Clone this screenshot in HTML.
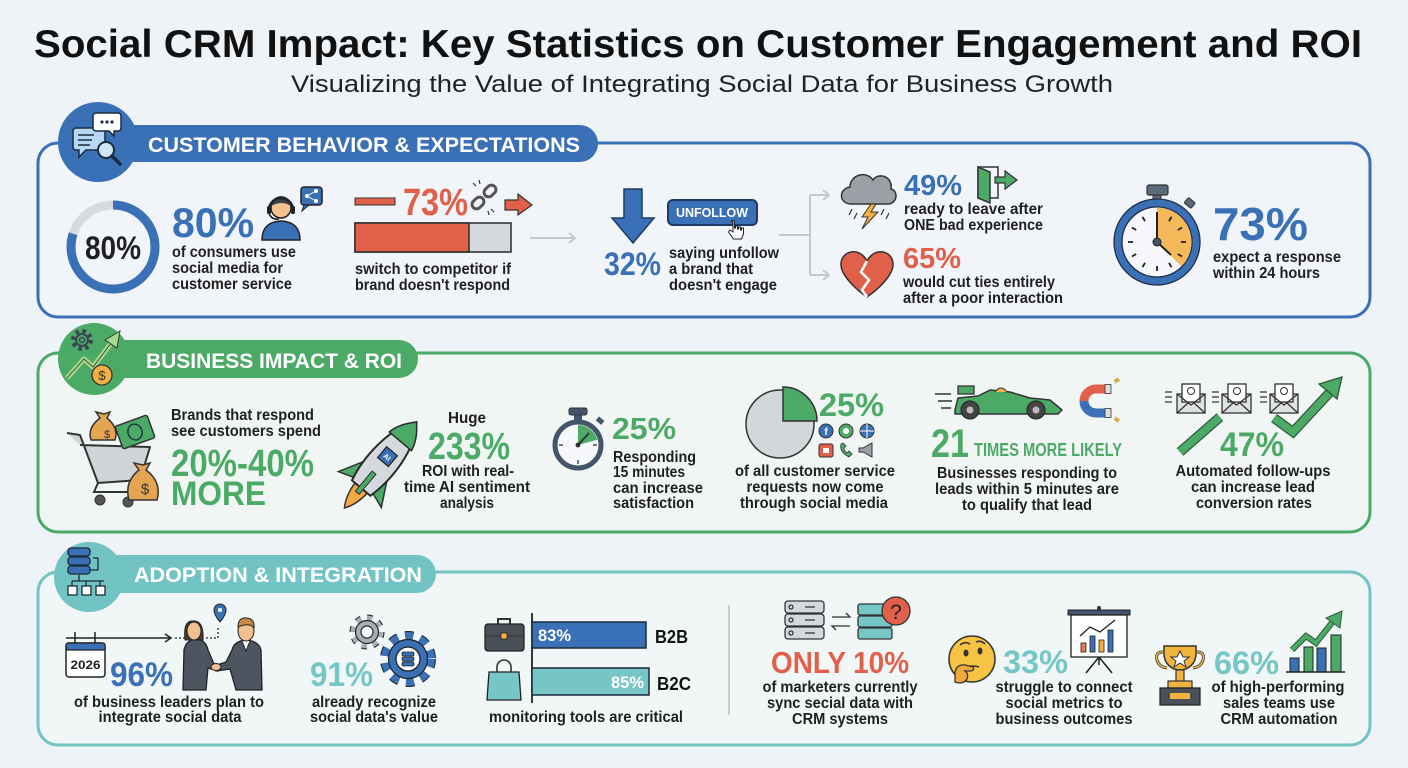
<!DOCTYPE html>
<html><head><meta charset="utf-8"><style>
html,body{margin:0;padding:0;background:#eef3f7}
svg{display:block}
text{font-family:"Liberation Sans",Arial,sans-serif}
.t{font-weight:bold;font-size:16px;fill:#1f1f1f}
.n{font-weight:bold}
.h{font-weight:bold;font-size:21px;fill:#fff}
</style></head><body>
<svg width="1408" height="768" viewBox="0 0 1408 768" xmlns="http://www.w3.org/2000/svg">
<rect width="1408" height="768" fill="#eef3f7"/>

<!-- Title -->
<text x="34" y="57" font-size="39" font-weight="bold" fill="#111" textLength="1328" lengthAdjust="spacingAndGlyphs">Social CRM Impact: Key Statistics on Customer Engagement and ROI</text>
<text x="291" y="92" font-size="24" fill="#222" textLength="822" lengthAdjust="spacingAndGlyphs">Visualizing the Value of Integrating Social Data for Business Growth</text>

<!-- ============ SECTION 1 ============ -->
<rect x="38" y="143" width="1332" height="174" rx="20" fill="#f1f5f9" stroke="#3a70b6" stroke-width="3"/>
<rect x="90" y="125" width="508" height="37" rx="18.5" fill="#3a70b6"/>
<circle cx="98" cy="142" r="40" fill="#3a70b6"/>
<text class="h" x="148" y="152" textLength="432" lengthAdjust="spacingAndGlyphs">CUSTOMER BEHAVIOR &amp; EXPECTATIONS</text>
<!-- header icon -->
<path d="M76 128 h26 a3 3 0 0 1 3 3 v16 a3 3 0 0 1 -3 3 h-16 l-7 7 v-7 h-3 a3 3 0 0 1 -3 -3 v-16 a3 3 0 0 1 3 -3z" fill="#b6d8f2" stroke="#1b2a40" stroke-width="1.5"/>
<line x1="78" y1="135" x2="94" y2="135" stroke="#1b2a40" stroke-width="1.5"/>
<line x1="78" y1="140" x2="92" y2="140" stroke="#1b2a40" stroke-width="1.5"/>
<line x1="78" y1="145" x2="90" y2="145" stroke="#1b2a40" stroke-width="1.5"/>
<path d="M96 113 h22 a3 3 0 0 1 3 3 v12 a3 3 0 0 1 -3 3 h-4 v5 l-5 -5 h-13 a3 3 0 0 1 -3 -3 v-12 a3 3 0 0 1 3 -3z" fill="#fff" stroke="#1b2a40" stroke-width="1.5"/>
<circle cx="102" cy="122" r="1.6" fill="#1b2a40"/><circle cx="107" cy="122" r="1.6" fill="#1b2a40"/><circle cx="112" cy="122" r="1.6" fill="#1b2a40"/>
<circle cx="106" cy="150" r="8" fill="#cfe6f7" stroke="#1b2a40" stroke-width="2"/>
<line x1="112" y1="156" x2="120" y2="164" stroke="#1b2a40" stroke-width="3.5" stroke-linecap="round"/>

<!-- donut 80% -->
<circle cx="113" cy="247" r="42" fill="none" stroke="#d7dade" stroke-width="9"/>
<circle cx="113" cy="247" r="42" fill="none" stroke="#3a70b6" stroke-width="9" stroke-dasharray="211.1 300" transform="rotate(-90 113 247)"/>
<text x="113" y="259" text-anchor="middle" font-size="32" class="n" fill="#1f1f1f" textLength="56" lengthAdjust="spacingAndGlyphs">80%</text>
<text x="172" y="237" font-size="42" class="n" fill="#3a70b6" textLength="82" lengthAdjust="spacingAndGlyphs">80%</text>
<!-- agent icon -->
<path d="M262 240 Q262 222 281 221 Q300 222 300 240 Z" fill="#3a70b6" stroke="#222" stroke-width="1.5"/>
<circle cx="281" cy="208" r="10" fill="#f2c28f" stroke="#222" stroke-width="1.5"/>
<path d="M271 206 A10 10 0 0 1 291 206 Q282 200 271 206Z" fill="#3b3f46"/>
<path d="M269 210 A12 12 0 0 1 293 210" fill="none" stroke="#222" stroke-width="2.5"/>
<rect x="267" y="206" width="4" height="8" rx="1.5" fill="#222"/><rect x="291" y="206" width="4" height="8" rx="1.5" fill="#222"/>
<path d="M269 213 Q271 220 279 219" fill="none" stroke="#222" stroke-width="1.5"/>
<rect x="301" y="187" width="21" height="18" rx="3" fill="#3a70b6" stroke="#222" stroke-width="1.5"/>
<path d="M304 205 l-2 6 l7 -6z" fill="#3a70b6" stroke="#222" stroke-width="1"/>
<circle cx="307" cy="196" r="2" fill="#fff"/><circle cx="316" cy="191" r="2" fill="#fff"/><circle cx="316" cy="201" r="2" fill="#fff"/>
<path d="M307 196 L316 191 M307 196 L316 201" stroke="#fff" stroke-width="1"/>
<text class="t" x="172" y="257" textLength="124" lengthAdjust="spacingAndGlyphs">of consumers use</text>
<text class="t" x="172" y="273" textLength="111" lengthAdjust="spacingAndGlyphs">social media for</text>
<text class="t" x="172" y="289" textLength="120" lengthAdjust="spacingAndGlyphs">customer service</text>

<!-- 73% switch -->
<rect x="355" y="198" width="40" height="7" fill="#e0604a" stroke="#333" stroke-width="1"/>
<text x="403" y="215" font-size="38" class="n" fill="#e0604a" textLength="65" lengthAdjust="spacingAndGlyphs">73%</text>
<g transform="translate(484,197) rotate(-45)">
<rect x="-15" y="-4.5" width="13" height="9" rx="4.5" fill="none" stroke="#555" stroke-width="3"/>
<rect x="2" y="-4.5" width="13" height="9" rx="4.5" fill="none" stroke="#555" stroke-width="3"/>
</g>
<path d="M476 186 l-3 -3 M480 184 l-1 -4 M491 209 l3 3 M488 211 l1 4" stroke="#333" stroke-width="1.2"/>
<polygon points="505,200 518,200 518,194 532,205 518,215 518,210 505,210" fill="#e0604a" stroke="#333" stroke-width="1.2"/>
<rect x="355" y="223" width="156" height="29" fill="#d5d8dc" stroke="#2a2a2a" stroke-width="1.5"/>
<rect x="355" y="223" width="114" height="29" fill="#e0604a" stroke="#2a2a2a" stroke-width="1.5"/>
<text class="t" x="355" y="274" textLength="156" lengthAdjust="spacingAndGlyphs">switch to competitor if</text>
<text class="t" x="355" y="290" textLength="155" lengthAdjust="spacingAndGlyphs">brand doesn't respond</text>
<line x1="530" y1="238" x2="574" y2="238" stroke="#c3c8cd" stroke-width="2"/>
<polyline points="569,233 575,238 569,243" fill="none" stroke="#c3c8cd" stroke-width="2"/>

<!-- 32% unfollow -->
<polygon points="624,189 642,189 642,218 654,218 633,243 612,218 624,218" fill="#3a70b6" stroke="#1d3a66" stroke-width="1.5"/>
<rect x="668" y="200" width="89" height="25" rx="5" fill="#3a70b6" stroke="#1d3a66" stroke-width="2"/>
<text x="712" y="217" text-anchor="middle" font-size="13" class="n" fill="#fff" textLength="72" lengthAdjust="spacingAndGlyphs">UNFOLLOW</text>
<path d="M733 222 v10 l-3 -2 l-1.5 2 l5 7 h8 l2 -5 v-6 h-2 v2 h-1 v-3 h-2 v2 h-1 v-3 h-2 v2 h-1 v-6 a1.5 1.5 0 0 0 -3 0z" fill="#fff" stroke="#222" stroke-width="1"/>
<text x="604" y="275" font-size="32" class="n" fill="#3a70b6" textLength="57" lengthAdjust="spacingAndGlyphs">32%</text>
<text class="t" x="669" y="258" textLength="110" lengthAdjust="spacingAndGlyphs">saying unfollow</text>
<text class="t" x="669" y="274" textLength="84" lengthAdjust="spacingAndGlyphs">a brand that</text>
<text class="t" x="669" y="290" textLength="108" lengthAdjust="spacingAndGlyphs">doesn't engage</text>

<!-- connector -->
<path d="M779 235 H810 M810 195 V275 M810 195 H828 M810 275 H828" fill="none" stroke="#c3c8cd" stroke-width="2"/>
<polyline points="823,190 829,195 823,200" fill="none" stroke="#c3c8cd" stroke-width="2"/>
<polyline points="823,270 829,275 823,280" fill="none" stroke="#c3c8cd" stroke-width="2"/>

<!-- cloud 49% -->
<path d="M851 204 C839 204 838 189 850 187 C850 175 866 170 873 180 C878 172 893 176 891 189 C899 191 897 204 888 204 Z" fill="#9aa0a6" stroke="#333" stroke-width="1.5"/>
<polygon points="871,204 862,217 868,217 862,229 878,212 871,212 876,204" fill="#f5b041" stroke="#333" stroke-width="1"/>
<path d="M852 209 l-3 6 M857 213 l-3 6 M884 209 l-3 6 M889 213 l-3 6" stroke="#333" stroke-width="1.2"/>
<text x="904" y="195" font-size="29" class="n" fill="#3a70b6" textLength="58" lengthAdjust="spacingAndGlyphs">49%</text>
<rect x="978" y="167" width="20" height="31" fill="none" stroke="#333" stroke-width="1.5"/>
<polygon points="978,167 990,172 990,203 978,198" fill="#4caa67" stroke="#333" stroke-width="1.5"/>
<polygon points="995,177 1005,177 1005,171 1017,180 1005,189 1005,183 995,183" fill="#4caa67" stroke="#333" stroke-width="1.2"/>
<text class="t" x="904" y="214" textLength="139" lengthAdjust="spacingAndGlyphs">ready to leave after</text>
<text class="t" x="904" y="230" textLength="139" lengthAdjust="spacingAndGlyphs">ONE bad experience</text>

<!-- heart 65% -->
<path d="M867 297 C850 285 840 272 841 263 C842 254 850 251 856 252 C861 253 865 257 867 261 C869 257 873 253 878 252 C884 251 892 254 893 263 C894 272 884 285 867 297 Z" fill="#e0604a" stroke="#333" stroke-width="1.5"/>
<polyline points="867,261 861,272 869,280 862,290 867,297" fill="none" stroke="#fff" stroke-width="2.5"/>
<text x="903" y="268" font-size="29" class="n" fill="#e0604a" textLength="58" lengthAdjust="spacingAndGlyphs">65%</text>
<text class="t" x="903" y="287" textLength="152" lengthAdjust="spacingAndGlyphs">would cut ties entirely</text>
<text class="t" x="903" y="303" textLength="160" lengthAdjust="spacingAndGlyphs">after a poor interaction</text>

<!-- stopwatch 73% -->
<rect x="1153" y="193" width="8" height="10" fill="#5a6a7a" stroke="#333" stroke-width="1"/>
<rect x="1147" y="185" width="21" height="10" rx="2" fill="#5a6a7a" stroke="#333" stroke-width="1.2"/>
<rect x="1185" y="199" width="9" height="7" rx="1.5" fill="#5a6a7a" stroke="#333" stroke-width="1" transform="rotate(40 1189 203)"/>
<circle cx="1157" cy="242" r="39" fill="#f5f7fa" stroke="#3a70b6" stroke-width="8"/>
<circle cx="1157" cy="242" r="43" fill="none" stroke="#1f2f48" stroke-width="1.3"/>
<circle cx="1157" cy="242" r="35" fill="none" stroke="#1f2f48" stroke-width="1.3"/>
<g transform="translate(1157,242)">
<path d="M0 0 L0 -34.5 A34.5 34.5 0 0 1 24.4 24.4 Z" fill="#f5b85a"/>
<g stroke="#222" stroke-width="1.8">
<line y1="-29" y2="-24" transform="rotate(30)"/><line y1="-29" y2="-24" transform="rotate(60)"/><line y1="-29" y2="-24" transform="rotate(90)"/><line y1="-29" y2="-24" transform="rotate(120)"/><line y1="-29" y2="-24" transform="rotate(150)"/><line y1="-29" y2="-24" transform="rotate(180)"/><line y1="-29" y2="-24" transform="rotate(210)"/><line y1="-29" y2="-24" transform="rotate(240)"/><line y1="-29" y2="-24" transform="rotate(270)"/><line y1="-29" y2="-24" transform="rotate(300)"/><line y1="-29" y2="-24" transform="rotate(330)"/>
</g>
<line x1="0" y1="0" x2="0" y2="-30" stroke="#222" stroke-width="2"/>
<line x1="0" y1="0" x2="14" y2="13" stroke="#222" stroke-width="2"/>
<circle r="4" fill="#44546a" stroke="#222" stroke-width="1"/>
</g>
<text x="1213" y="240" font-size="46" class="n" fill="#3a70b6" textLength="95" lengthAdjust="spacingAndGlyphs">73%</text>
<text class="t" x="1213" y="262" textLength="128" lengthAdjust="spacingAndGlyphs">expect a response</text>
<text class="t" x="1213" y="278" textLength="107" lengthAdjust="spacingAndGlyphs">within 24 hours</text>

<!-- ============ SECTION 2 ============ -->
<rect x="38" y="353" width="1332" height="179" rx="20" fill="#f1f6f4" stroke="#4caa67" stroke-width="3"/>
<rect x="90" y="340" width="328" height="38" rx="19" fill="#4caa67"/>
<circle cx="94" cy="359" r="36" fill="#4caa67"/>
<text class="h" x="146" y="368" textLength="256" lengthAdjust="spacingAndGlyphs">BUSINESS IMPACT &amp; ROI</text>
<circle cx="82" cy="340" r="9" fill="none" stroke="#3b4552" stroke-width="4" stroke-dasharray="3.5 3.6"/>
<circle cx="82" cy="340" r="6" fill="#4caa67" stroke="#3b4552" stroke-width="2"/>
<circle cx="82" cy="340" r="2.5" fill="none" stroke="#3b4552" stroke-width="1.5"/>
<polyline points="67,378 84,359 93,367 112,342" fill="none" stroke="#a6d98a" stroke-width="5" stroke-linejoin="round"/>
<polyline points="67,378 84,359 93,367 112,342" fill="none" stroke="#2d4030" stroke-width="0.8"/>
<polygon points="105,340 120,331 117,348" fill="#a6d98a" stroke="#2d4030" stroke-width="1"/>
<circle cx="102" cy="375" r="10" fill="#f5b041" stroke="#333" stroke-width="1.3"/>
<text x="102" y="380" text-anchor="middle" font-size="13" fill="#333">$</text>

<!-- cart -->
<path d="M67 433 L80 435 L98 483 L140 480 L150 447 L80 445" fill="#d0d4d8" stroke="#333" stroke-width="2" stroke-linejoin="round"/>
<path d="M98 483 L94 492 L140 492" fill="none" stroke="#333" stroke-width="2"/>
<circle cx="100" cy="500" r="5" fill="#555" stroke="#333"/><circle cx="128" cy="502" r="5" fill="#555" stroke="#333"/>
<g transform="rotate(-20 135 432)"><rect x="118" y="420" width="34" height="24" rx="2" fill="#4caa67" stroke="#333" stroke-width="1.5"/><ellipse cx="135" cy="432" rx="7" ry="8" fill="none" stroke="#234" stroke-width="1.5"/></g>
<path d="M100 418 l-4 -6 l8 2 l6 -2 l-3 6 q12 10 8 22 h-24 q-4 -12 9 -22z" fill="#e3a552" stroke="#333" stroke-width="1.5"/>
<text x="107" y="438" text-anchor="middle" font-size="11" fill="#333">$</text>
<path d="M139 470 l-5 -7 l9 2 l7 -2 l-4 7 q16 12 11 30 h-28 q-5 -18 10 -30z" fill="#e3a552" stroke="#333" stroke-width="1.5"/>
<text x="145" y="494" text-anchor="middle" font-size="15" fill="#333">$</text>
<text class="t" x="171" y="420" textLength="143" lengthAdjust="spacingAndGlyphs">Brands that respond</text>
<text class="t" x="171" y="436" textLength="150" lengthAdjust="spacingAndGlyphs">see customers spend</text>
<text x="171" y="476" font-size="38" class="n" fill="#4caa67" textLength="143" lengthAdjust="spacingAndGlyphs">20%-40%</text>
<text x="171" y="505" font-size="34" class="n" fill="#4caa67" textLength="95" lengthAdjust="spacingAndGlyphs">MORE</text>

<!-- rocket -->
<g transform="translate(383,462) rotate(40)">
<path d="M-8 34 Q-7 50 0 60 Q7 50 8 34 Z" fill="#f5a742" stroke="#333" stroke-width="1.5"/>
<path d="M-13 8 L-28 36 L-11 30 Z" fill="#4caa67" stroke="#333" stroke-width="1.5"/>
<path d="M13 8 L28 36 L11 30 Z" fill="#4caa67" stroke="#333" stroke-width="1.5"/>
<path d="M0 -52 C18 -30 18 10 12 34 L-12 34 C-18 10 -18 -30 0 -52 Z" fill="#d5d8dc" stroke="#2a2a2a" stroke-width="2"/>
<path d="M0 -52 C9 -43 13 -35 14.5 -27 L-14.5 -27 C-13 -35 -9 -43 0 -52 Z" fill="#4caa67" stroke="#2a2a2a" stroke-width="1.5"/>
<rect x="-2.5" y="14" width="5" height="26" fill="#4caa67" stroke="#333" stroke-width="1"/>
<rect x="-7" y="-14" width="14" height="14" fill="#3a70b6" stroke="#222" stroke-width="1.2"/>
<text x="0" y="-4" text-anchor="middle" font-size="7" class="n" fill="#fff">AI</text>
</g>
<text class="t" x="467" y="423" text-anchor="middle" textLength="38" lengthAdjust="spacingAndGlyphs">Huge</text>
<text x="469" y="459" text-anchor="middle" font-size="38" class="n" fill="#4caa67" textLength="82" lengthAdjust="spacingAndGlyphs">233%</text>
<text class="t" x="468" y="476" text-anchor="middle" textLength="92" lengthAdjust="spacingAndGlyphs">ROI with real-</text>
<text class="t" x="467" y="492" text-anchor="middle" textLength="126" lengthAdjust="spacingAndGlyphs">time AI sentiment</text>
<text class="t" x="467" y="508" text-anchor="middle" textLength="54" lengthAdjust="spacingAndGlyphs">analysis</text>

<!-- small stopwatch -->
<rect x="574" y="413" width="8" height="8" fill="#44546a"/>
<rect x="569" y="408" width="18" height="7" rx="2" fill="#44546a" stroke="#333" stroke-width="1"/>
<rect x="597" y="418" width="7" height="5" fill="#44546a" transform="rotate(40 600 420)"/>
<circle cx="578" cy="445" r="23" fill="#f5f7fa" stroke="#44546a" stroke-width="5"/>
<path d="M578 445 L578 425 A20 20 0 0 1 597.3 439.8 Z" fill="#4caa67"/>
<g stroke="#333" stroke-width="1.3"><line x1="578" y1="464" x2="578" y2="460"/><line x1="559" y1="445" x2="563" y2="445"/><line x1="597" y1="445" x2="593" y2="445"/></g>
<line x1="578" y1="445" x2="589" y2="433" stroke="#333" stroke-width="2"/>
<circle cx="578" cy="445" r="2.5" fill="#333"/>
<text x="612" y="439" font-size="31" class="n" fill="#4caa67" textLength="64" lengthAdjust="spacingAndGlyphs">25%</text>
<text class="t" x="613" y="462" textLength="83" lengthAdjust="spacingAndGlyphs">Responding</text>
<text class="t" x="613" y="477" textLength="72" lengthAdjust="spacingAndGlyphs">15 minutes</text>
<text class="t" x="613" y="493" textLength="90" lengthAdjust="spacingAndGlyphs">can increase</text>
<text class="t" x="613" y="508" textLength="81" lengthAdjust="spacingAndGlyphs">satisfaction</text>

<!-- pie 25% -->
<circle cx="780" cy="424" r="34" fill="#d3d6da" stroke="#333" stroke-width="1.5"/>
<path d="M783 421 L783 387 A34 34 0 0 1 817 421 Z" fill="#4caa67" stroke="#333" stroke-width="1.5"/>
<text x="819" y="416" font-size="32" class="n" fill="#4caa67" textLength="65" lengthAdjust="spacingAndGlyphs">25%</text>
<circle cx="826" cy="431" r="7" fill="#3a70b6" stroke="#333"/><text x="826" y="435" text-anchor="middle" font-size="10" class="n" fill="#fff">f</text>
<circle cx="846" cy="431" r="7" fill="#4caa67" stroke="#333"/><circle cx="846" cy="431" r="3" fill="#fff"/>
<circle cx="867" cy="431" r="7" fill="#3a70b6" stroke="#333"/><path d="M860 431 h14 M867 424 v14" stroke="#fff" stroke-width="1"/>
<rect x="819" y="444" width="14" height="13" rx="2" fill="#e0604a" stroke="#333"/><rect x="823" y="448" width="6" height="5" fill="#fff"/>
<path d="M841 444 q-2 8 8 13 l3 -3 l-3 -3 l-2 2 q-3 -2 -3 -5 l2 -2 l-3 -3z" fill="#4caa67" stroke="#333" stroke-width="0.8"/>
<path d="M859 448 h4 l9 -5 v14 l-9 -5 h-4z" fill="#9aa0a6" stroke="#333"/>
<text class="t" x="815" y="476" text-anchor="middle" textLength="160" lengthAdjust="spacingAndGlyphs">of all customer service</text>
<text class="t" x="815" y="492" text-anchor="middle" textLength="137" lengthAdjust="spacingAndGlyphs">requests now come</text>
<text class="t" x="814" y="508" text-anchor="middle" textLength="148" lengthAdjust="spacingAndGlyphs">through social media</text>

<!-- race car + magnet -->
<path d="M935 394 h16 M938 401 h14 M941 408 h10" stroke="#333" stroke-width="1.5"/>
<path d="M955 410 L958 398 L978 396 L990 390 L1010 392 L1030 398 L1050 400 L1062 410 L1058 414 L955 414 Z" fill="#4caa67" stroke="#333" stroke-width="1.5" stroke-linejoin="round"/>
<rect x="958" y="386" width="16" height="8" fill="#4caa67" stroke="#333" stroke-width="1.3"/>
<path d="M995 392 q6 -8 12 0" fill="#f5b041" stroke="#333" stroke-width="1"/>
<circle cx="970" cy="410" r="9" fill="#444" stroke="#222"/><circle cx="970" cy="410" r="3.5" fill="#bbb"/>
<circle cx="1036" cy="410" r="9" fill="#444" stroke="#222"/><circle cx="1036" cy="410" r="3.5" fill="#bbb"/>
<path d="M1110 389 L1096 389 A12 12 0 0 0 1084 401" fill="none" stroke="#e0604a" stroke-width="9"/>
<path d="M1084 401 A12 12 0 0 0 1096 413 L1110 413" fill="none" stroke="#3a70b6" stroke-width="9"/>
<rect x="1105" y="384.5" width="6" height="9" fill="#ddd" stroke="#333" stroke-width="0.8"/><rect x="1105" y="408.5" width="6" height="9" fill="#ddd" stroke="#333" stroke-width="0.8"/>
<path d="M1114 381 l4 -3 l-2 4 l4 -2 M1114 419 l4 3 l-2 -4 l4 2" fill="none" stroke="#e0a030" stroke-width="1.5"/>
<text x="931" y="457" font-size="40" class="n" fill="#4caa67" textLength="38" lengthAdjust="spacingAndGlyphs">21</text>
<text x="974" y="456" font-size="18" class="n" fill="#4caa67" textLength="148" lengthAdjust="spacingAndGlyphs">TIMES MORE LIKELY</text>
<text class="t" x="1027" y="478" text-anchor="middle" textLength="180" lengthAdjust="spacingAndGlyphs">Businesses responding to</text>
<text class="t" x="1027" y="494" text-anchor="middle" textLength="184" lengthAdjust="spacingAndGlyphs">leads within 5 minutes are</text>
<text class="t" x="1027" y="510" text-anchor="middle" textLength="130" lengthAdjust="spacingAndGlyphs">to qualify that lead</text>

<!-- envelopes -->
<g stroke="#333" stroke-width="1.3">
<path d="M1165 392 h7 M1165 397 h7 M1165 402 h7 M1212 392 h7 M1212 397 h7 M1212 402 h7 M1260 392 h7 M1260 397 h7 M1260 402 h7" fill="none"/>
<g fill="#dfe2e5"><rect x="1177" y="394" width="28" height="19"/><rect x="1222" y="394" width="29" height="19"/><rect x="1270" y="394" width="28" height="19"/></g>
<g fill="#fff"><rect x="1182" y="384" width="18" height="18"/><rect x="1228" y="384" width="18" height="18"/><rect x="1275" y="384" width="18" height="18"/></g>
<path d="M1177 394 L1191 405 L1205 394 M1177 413 L1188 403 M1205 413 L1194 403 M1222 394 L1236.5 405 L1251 394 M1222 413 L1233 403 M1251 413 L1240 403 M1270 394 L1284 405 L1298 394 M1270 413 L1281 403 M1298 413 L1287 403" fill="none"/>
</g>
<g fill="none" stroke="#333" stroke-width="1"><circle cx="1191" cy="391" r="3.5"/><circle cx="1237" cy="391" r="3.5"/><circle cx="1284" cy="391" r="3.5"/></g>
<line x1="1180" y1="452" x2="1220" y2="417" stroke="#2d5a3a" stroke-width="10"/>
<line x1="1180" y1="452" x2="1220" y2="417" stroke="#4caa67" stroke-width="7.5"/>
<polyline points="1274,418 1293,432 1332,390" fill="none" stroke="#2d5a3a" stroke-width="10"/>
<polyline points="1274,418 1293,432 1332,390" fill="none" stroke="#4caa67" stroke-width="7.5"/>
<polygon points="1342,377 1337,399 1319,384" fill="#4caa67" stroke="#2d5a3a" stroke-width="1.3"/>
<text x="1220" y="456" font-size="34" class="n" fill="#4caa67" textLength="64" lengthAdjust="spacingAndGlyphs">47%</text>
<text class="t" x="1253" y="476" text-anchor="middle" textLength="155" lengthAdjust="spacingAndGlyphs">Automated follow-ups</text>
<text class="t" x="1253" y="492" text-anchor="middle" textLength="124" lengthAdjust="spacingAndGlyphs">can increase lead</text>
<text class="t" x="1254" y="508" text-anchor="middle" textLength="116" lengthAdjust="spacingAndGlyphs">conversion rates</text>

<!-- ============ SECTION 3 ============ -->
<rect x="38" y="572" width="1332" height="173" rx="20" fill="#f1f6f7" stroke="#72c3c3" stroke-width="3"/>
<rect x="90" y="555" width="346" height="38" rx="19" fill="#72c3c3"/>
<circle cx="89" cy="577" r="35" fill="#72c3c3"/>
<text class="h" x="134" y="582" textLength="288" lengthAdjust="spacingAndGlyphs">ADOPTION &amp; INTEGRATION</text>
<g stroke="#1d2a3a" stroke-width="1.3" fill="#3a70b6">
<rect x="68" y="548" width="22" height="8" rx="3"/><rect x="68" y="557" width="22" height="8" rx="3"/><rect x="68" y="566" width="22" height="8" rx="3"/>
</g>
<path d="M90 570 h8 v-12 h-5" fill="none" stroke="#1d2a3a" stroke-width="1.3"/>
<path d="M79 575 v6 M72 581 h32 M72 581 v5 M86 581 v5 M100 581 v5" fill="none" stroke="#1d2a3a" stroke-width="1.3"/>
<g fill="#fff" stroke="#1d2a3a" stroke-width="1.3"><rect x="68" y="586" width="9" height="9"/><rect x="82" y="586" width="9" height="9"/><rect x="96" y="586" width="9" height="9"/></g>

<!-- 96% -->
<line x1="66" y1="638" x2="170" y2="638" stroke="#222" stroke-width="1.5"/>
<polyline points="165,634 171,638 165,642" fill="none" stroke="#222" stroke-width="1.5"/>
<path d="M75 632 v12 M95 632 v12" stroke="#222" stroke-width="1.5"/>
<line x1="175" y1="638" x2="185" y2="638" stroke="#222" stroke-width="1.3" stroke-dasharray="2 2"/>
<path d="M206 638 h12 v-10" fill="none" stroke="#222" stroke-width="1.3" stroke-dasharray="2 2"/>
<rect x="66" y="643" width="39" height="34" rx="3" fill="#fff" stroke="#222" stroke-width="1.5"/>
<rect x="66" y="643" width="39" height="7" rx="2" fill="#3a70b6" stroke="#222" stroke-width="1.2"/>
<text x="85.5" y="669" text-anchor="middle" font-size="12" class="n" fill="#222" textLength="30" lengthAdjust="spacingAndGlyphs">2026</text>
<text x="110" y="686" font-size="34" class="n" fill="#3a70b6" textLength="63" lengthAdjust="spacingAndGlyphs">96%</text>
<!-- people -->
<path d="M220 604 a6 6 0 0 1 6 6 q0 5 -6 12 q-6 -7 -6 -12 a6 6 0 0 1 6 -6z" fill="#3a70b6" stroke="#222" stroke-width="1"/>
<circle cx="220" cy="610" r="2" fill="#fff"/>
<path d="M183 690 L184 650 Q186 640 196 639 Q206 640 208 650 L214 664 L220 666 L218 671 L208 668 L206 690 Z" fill="#4d5560" stroke="#222" stroke-width="1.3"/>
<path d="M185 640 Q183 620 193 621 Q204 620 203 640 Z" fill="#4a3a30" stroke="#222" stroke-width="1"/>
<ellipse cx="194" cy="631" rx="7" ry="9" fill="#f0c090" stroke="#222" stroke-width="1"/>
<path d="M262 690 L261 650 Q259 641 246 640 Q234 641 232 650 L226 662 L214 666 L216 671 L230 669 L236 690 Z" fill="#4d5560" stroke="#222" stroke-width="1.3"/>
<path d="M242 641 l4 10 l4 -10" fill="#fff" stroke="#222" stroke-width="1"/>
<ellipse cx="246" cy="631" rx="8" ry="10" fill="#f0c090" stroke="#222" stroke-width="1"/>
<path d="M238 627 Q238 617 247 618 Q255 619 254 628 Q250 622 238 627Z" fill="#c48a4a" stroke="#222" stroke-width="1"/>
<ellipse cx="216" cy="667" rx="5" ry="3.5" fill="#f0c090" stroke="#222" stroke-width="1"/>
<text class="t" x="169" y="707" text-anchor="middle" textLength="190" lengthAdjust="spacingAndGlyphs">of business leaders plan to</text>
<text class="t" x="170" y="722" text-anchor="middle" textLength="143" lengthAdjust="spacingAndGlyphs">integrate social data</text>

<!-- gears 91% -->
<circle cx="367" cy="632" r="14" fill="none" stroke="#222" stroke-width="7" stroke-dasharray="5 6"/>
<circle cx="367" cy="632" r="14" fill="none" stroke="#a8aeb4" stroke-width="5" stroke-dasharray="5 6"/>
<circle cx="367" cy="632" r="11.5" fill="#a8aeb4" stroke="#222" stroke-width="1.2"/>
<circle cx="367" cy="632" r="6" fill="#fff" stroke="#222" stroke-width="1.2"/>
<circle cx="408" cy="659" r="23" fill="none" stroke="#222" stroke-width="10" stroke-dasharray="8 7.05"/>
<circle cx="408" cy="659" r="23" fill="none" stroke="#3a70b6" stroke-width="8" stroke-dasharray="8 7.05"/>
<circle cx="408" cy="659" r="19.5" fill="#3a70b6" stroke="#222" stroke-width="1.2"/>
<circle cx="408" cy="659" r="12" fill="#fff" stroke="#222" stroke-width="1.3"/>
<g fill="#3a70b6" stroke="#222" stroke-width="0.8"><rect x="402" y="652" width="12" height="4" rx="1.5"/><rect x="402" y="657" width="12" height="4" rx="1.5"/><rect x="402" y="662" width="12" height="4" rx="1.5"/></g>
<text x="310" y="686" font-size="34" class="n" fill="#76c6c6" textLength="63" lengthAdjust="spacingAndGlyphs">91%</text>
<text class="t" x="374" y="707" text-anchor="middle" textLength="124" lengthAdjust="spacingAndGlyphs">already recognize</text>
<text class="t" x="374" y="722" text-anchor="middle" textLength="128" lengthAdjust="spacingAndGlyphs">social data's value</text>

<!-- bars B2B/B2C -->
<path d="M498 625 v-6 h12 v6" fill="none" stroke="#333" stroke-width="2"/>
<rect x="485" y="624" width="39" height="27" rx="3" fill="#4a5058" stroke="#222" stroke-width="1.3"/>
<line x1="485" y1="636" x2="524" y2="636" stroke="#333" stroke-width="1"/>
<rect x="501" y="633" width="6" height="6" fill="#f5b041" stroke="#222" stroke-width="0.8"/>
<line x1="532" y1="613" x2="532" y2="703" stroke="#222" stroke-width="1.8"/>
<rect x="532" y="622" width="114" height="26" fill="#3a70b6" stroke="#1d2a3a" stroke-width="1.5"/>
<text x="538" y="641" font-size="17" class="n" fill="#fff" textLength="33" lengthAdjust="spacingAndGlyphs">83%</text>
<rect x="532" y="668" width="117" height="27" fill="#76c6c6" stroke="#1d2a3a" stroke-width="1.5"/>
<text x="644" y="688" text-anchor="end" font-size="17" class="n" fill="#fff" textLength="33" lengthAdjust="spacingAndGlyphs">85%</text>
<text x="655" y="643" font-size="18" class="n" fill="#111" textLength="33" lengthAdjust="spacingAndGlyphs">B2B</text>
<text x="657" y="690" font-size="18" class="n" fill="#111" textLength="34" lengthAdjust="spacingAndGlyphs">B2C</text>
<path d="M497 673 v-6 a7 7 0 0 1 14 0 v6" fill="none" stroke="#333" stroke-width="1.6"/>
<path d="M489 672 h30 l2 28 h-34 z" fill="#76c6c6" stroke="#222" stroke-width="1.3"/>
<text class="t" x="489" y="722" textLength="194" lengthAdjust="spacingAndGlyphs">monitoring tools are critical</text>

<line x1="729" y1="605" x2="729" y2="715" stroke="#c8cdd2" stroke-width="2"/>

<!-- ONLY 10% -->
<g fill="#d5d8dc" stroke="#333" stroke-width="1.3">
<rect x="785" y="601" width="39" height="12" rx="3"/><rect x="785" y="614" width="39" height="12" rx="3"/><rect x="785" y="627" width="39" height="12" rx="3"/>
</g>
<g fill="none" stroke="#333" stroke-width="1.3">
<circle cx="791" cy="607" r="2"/><circle cx="791" cy="620" r="2"/><circle cx="791" cy="633" r="2"/>
<path d="M805 607 h10 M805 620 h10 M805 633 h10"/>
<path d="M832 617 h18 l-4 -4 M850 626 h-18 l4 4"/>
</g>
<g fill="#76c6c6" stroke="#333" stroke-width="1.3">
<rect x="858" y="604" width="34" height="11" rx="2"/><rect x="858" y="616" width="34" height="11" rx="2"/><rect x="858" y="628" width="34" height="11" rx="2"/>
</g>
<circle cx="896" cy="611" r="14" fill="#e0604a" stroke="#333" stroke-width="1.3"/>
<text x="896" y="619" text-anchor="middle" font-size="21" fill="#222">?</text>
<text x="771" y="673" font-size="31" class="n" fill="#e0604a" textLength="138" lengthAdjust="spacingAndGlyphs">ONLY 10%</text>
<text class="t" x="840" y="692" text-anchor="middle" textLength="155" lengthAdjust="spacingAndGlyphs">of marketers currently</text>
<text class="t" x="840" y="708" text-anchor="middle" textLength="146" lengthAdjust="spacingAndGlyphs">sync secial data with</text>
<text class="t" x="840" y="724" text-anchor="middle" textLength="96" lengthAdjust="spacingAndGlyphs">CRM systems</text>

<!-- 33% -->
<circle cx="972" cy="659" r="23" fill="#f6c443" stroke="#333" stroke-width="1.5"/>
<ellipse cx="966" cy="653" rx="2.5" ry="3.5" fill="#333"/><ellipse cx="980" cy="651" rx="2.5" ry="3.5" fill="#333"/>
<path d="M960 645 q5 -4 10 -1 M976 642 q5 -2 9 2" fill="none" stroke="#333" stroke-width="1.6"/>
<path d="M966 667 q7 -2 13 0" fill="none" stroke="#333" stroke-width="1.6"/>
<path d="M955 672 q2 -8 10 -7 l8 2 q2 3 -2 4 l-6 0 q4 3 2 8 q-4 6 -12 3z" fill="#f0a83c" stroke="#333" stroke-width="1.3"/>
<text x="1003" y="673" font-size="32" class="n" fill="#76c6c6" textLength="65" lengthAdjust="spacingAndGlyphs">33%</text>
<circle cx="1099" cy="608" r="2" fill="#333"/>
<rect x="1068" y="610" width="62" height="5" fill="#44546a" stroke="#222"/>
<rect x="1071" y="615" width="56" height="42" fill="#fff" stroke="#222" stroke-width="1.3"/>
<g stroke="#222" stroke-width="0.8"><rect x="1081" y="643" width="5" height="9" fill="#e8794a"/><rect x="1090" y="636" width="5" height="16" fill="#3a70b6"/><rect x="1099" y="640" width="5" height="12" fill="#f5b041"/><rect x="1108" y="630" width="5" height="22" fill="#3a70b6"/></g>
<polyline points="1080,636 1090,627 1100,632 1115,620" fill="none" stroke="#222" stroke-width="1.3"/>
<path d="M1099 657 L1086 673 M1099 657 L1112 673 M1099 657 v8" stroke="#222" stroke-width="1.5"/>
<text class="t" x="1064" y="692" text-anchor="middle" textLength="137" lengthAdjust="spacingAndGlyphs">struggle to connect</text>
<text class="t" x="1064" y="708" text-anchor="middle" textLength="117" lengthAdjust="spacingAndGlyphs">social metrics to</text>
<text class="t" x="1064" y="724" text-anchor="middle" textLength="137" lengthAdjust="spacingAndGlyphs">business outcomes</text>

<!-- 66% -->
<path d="M1163 652 q-8 0 -6 8 q2 7 10 8 M1197 652 q8 0 6 8 q-2 7 -10 8" fill="none" stroke="#333" stroke-width="3"/>
<path d="M1163 652 q-8 0 -6 8 q2 7 10 8 M1197 652 q8 0 6 8 q-2 7 -10 8" fill="none" stroke="#f0b43c" stroke-width="1.5"/>
<path d="M1164 646 h32 v8 a16 16 0 0 1 -32 0 z" fill="#f0b43c" stroke="#333" stroke-width="1.5"/>
<polygon points="1180,651 1183,657 1189,657 1184,661 1186,667 1180,663 1174,667 1176,661 1171,657 1177,657" fill="#fff" stroke="#333" stroke-width="1"/>
<rect x="1176" y="670" width="8" height="12" fill="#f0b43c" stroke="#333" stroke-width="1.2"/>
<rect x="1168" y="681" width="24" height="7" fill="#f0b43c" stroke="#333" stroke-width="1.2"/>
<rect x="1160" y="688" width="40" height="17" fill="#4a5058" stroke="#222" stroke-width="1.2"/>
<rect x="1170" y="693" width="20" height="6" fill="#f0b43c"/>
<text x="1214" y="674" font-size="32" class="n" fill="#76c6c6" textLength="65" lengthAdjust="spacingAndGlyphs">66%</text>
<g stroke="#222" stroke-width="1"><rect x="1290" y="658" width="9" height="14" fill="#3a70b6"/><rect x="1304" y="647" width="9" height="25" fill="#4caa67"/><rect x="1317" y="648" width="9" height="24" fill="#3a70b6"/><rect x="1331" y="635" width="10" height="37" fill="#4caa67"/></g>
<line x1="1286" y1="672" x2="1345" y2="672" stroke="#222" stroke-width="1.5"/>
<polyline points="1292,650 1306,636 1316,643 1334,620" fill="none" stroke="#2d5a3a" stroke-width="6"/>
<polyline points="1292,650 1306,636 1316,643 1334,620" fill="none" stroke="#4caa67" stroke-width="4"/>
<polygon points="1342,611 1340,628 1326,618" fill="#4caa67" stroke="#2d5a3a" stroke-width="1"/>
<text class="t" x="1278" y="692" text-anchor="middle" textLength="133" lengthAdjust="spacingAndGlyphs">of high-performing</text>
<text class="t" x="1279" y="708" text-anchor="middle" textLength="112" lengthAdjust="spacingAndGlyphs">sales teams use</text>
<text class="t" x="1279" y="724" text-anchor="middle" textLength="117" lengthAdjust="spacingAndGlyphs">CRM automation</text>
</svg>
</body></html>
